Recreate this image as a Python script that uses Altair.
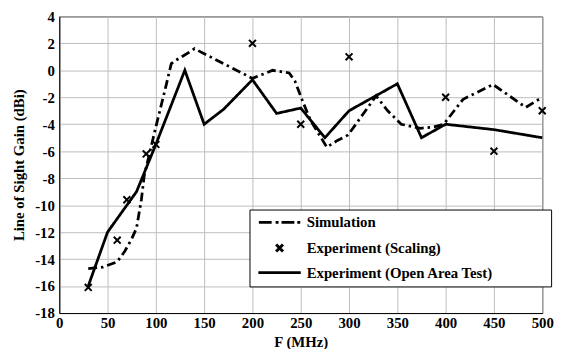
import altair as alt
import pandas as pd

# Simulation (dash-dot line)
sim_f = [30, 45, 60, 68, 75, 80, 85, 88, 100, 110, 116, 122, 136, 140, 200, 221, 238, 244, 252, 260, 277, 288, 299, 328, 340, 354, 374, 388, 398, 418, 449, 483, 500]
sim_g = [-14.7, -14.6, -14.2, -13.4, -12.5, -11.7, -9.6, -7.8, -4.2, -1.3, 0.5, 0.8, 1.4, 1.6, -0.6, 0.0, -0.2, -0.8, -2.3, -3.7, -5.7, -5.2, -4.8, -1.9, -3.0, -4.0, -4.3, -4.2, -4.0, -2.15, -1.05, -2.75, -2.0]

# Experiment (Scaling) - crosses
scal_f = [30, 60, 70, 90, 100, 200, 250, 300, 400, 450, 500]
scal_g = [-16.1, -12.6, -9.6, -6.2, -5.5, 2.0, -4.0, 1.0, -2.0, -6.0, -3.0]

# Experiment (Open Area Test) - solid line
open_f = [30, 50, 80, 100, 130, 150, 170, 200, 225, 250, 275, 300, 325, 350, 375, 400, 450, 500]
open_g = [-16.0, -12.0, -9.0, -5.5, 0.0, -4.0, -2.9, -0.7, -3.2, -2.8, -5.0, -3.0, -2.0, -1.0, -5.0, -4.0, -4.4, -5.0]

series_names = ["Simulation", "Experiment (Scaling)", "Experiment (Open Area Test)"]
x_ticks = list(range(0, 501, 50))
y_ticks = list(range(-18, 5, 2))

lines_df = pd.concat([
    pd.DataFrame({"f": sim_f, "g": sim_g, "series": series_names[0]}),
    pd.DataFrame({"f": open_f, "g": open_g, "series": series_names[2]}),
])
pts_df = pd.DataFrame({"f": scal_f, "g": scal_g, "series": series_names[1]})

FONT = "Liberation Serif"
# trailing non-breaking spaces (kept by a final zero-width space) widen the legend box
LEGEND_PAD = "\u00a0" * 14 + "\u200b"

x_enc = alt.X("f:Q", scale=alt.Scale(domain=[0, 500], nice=False),
              axis=alt.Axis(values=x_ticks, title="F (MHz)", labelPadding=3, titlePadding=4,
                            labelFlush=False, labelOverlap=False))
y_enc = alt.Y("g:Q", scale=alt.Scale(domain=[-18, 4], nice=False),
              axis=alt.Axis(values=y_ticks, title="Line of Sight Gain (dBi)",
                            labelExpr="toString(datum.value)", labelPadding=5, titlePadding=8,
                            labelFlush=False, labelOverlap=False))

lines = alt.Chart(lines_df).mark_line(color="black", strokeWidth=2.8).encode(
    x=x_enc, y=y_enc,
    strokeDash=alt.StrokeDash("series:N",
                              scale=alt.Scale(domain=[series_names[0], series_names[2]],
                                              range=[[9, 4, 2.5, 4], [1, 0]]),
                              legend=None),
)

# legend symbol shapes (custom paths): dash-dot line, cross, solid line
shape_range = [
    "M-6,0L-2.29,0M-1.14,0L-0.29,0M0.57,0L4.29,0M5.14,0L6,0",
    "M-1,-1L1,1M-1,1L1,-1",
    "M-6.14,0L6.14,0",
]

pts = alt.Chart(pts_df).mark_point(filled=False, color="black", strokeWidth=2, size=49, opacity=1).encode(
    x=x_enc, y=y_enc,
    shape=alt.Shape("series:N",
                    scale=alt.Scale(domain=series_names, range=shape_range),
                    legend=alt.Legend(
                        title=None, orient="none", legendX=193, legendY=196,
                        strokeColor="black", fillColor="white", padding=5.5,
                        symbolSize=49, symbolStrokeWidth=3, symbolStrokeColor="black",
                        symbolFillColor="transparent", symbolOpacity=1,
                        symbolOffset=17.5, labelOffset=20, rowPadding=8,
                        labelFont=FONT, labelFontSize=15, labelFontWeight="bold",
                        labelColor="black", labelLimit=500,
                        labelExpr="datum.label + '" + LEGEND_PAD + "'",
                    )),
)

chart = alt.layer(lines, pts).properties(
    width=490, height=301,
    autosize=alt.AutoSizeParams(type="none"),
    padding={"left": 52, "top": 6, "right": 17, "bottom": 34},
    background="white",
).configure(
    font=FONT,
).configure_view(
    stroke="black", strokeWidth=1,
).configure_axis(
    labelFont=FONT, labelFontSize=15, labelFontWeight="bold", labelColor="black",
    titleFont=FONT, titleFontSize=15, titleFontWeight="bold", titleColor="black",
    grid=True, gridColor="#bdbdbd", gridWidth=1,
    domainColor="black", domainWidth=1,
    ticks=False,
)

chart.save("out.html", embed_options={"renderer": "svg", "actions": False})
